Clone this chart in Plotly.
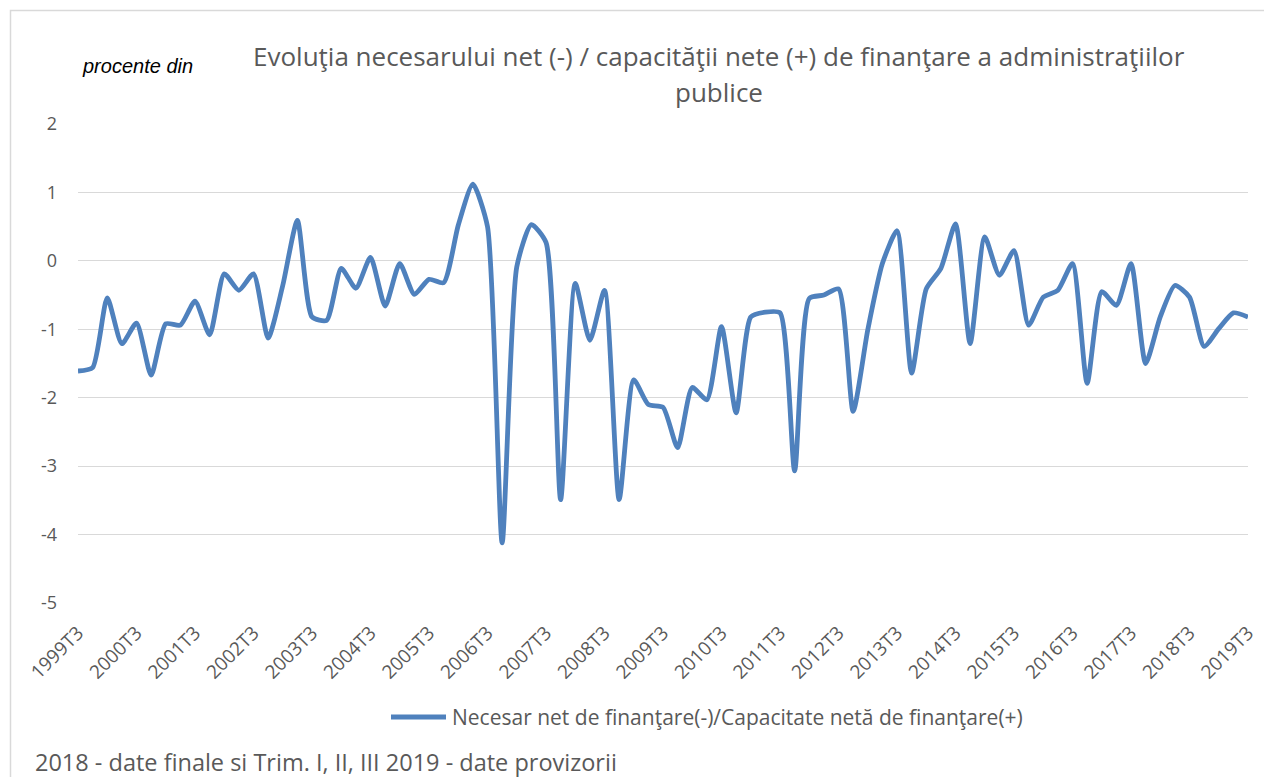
import plotly.graph_objects as go

years = list(range(1999, 2020))
quarters = []
for y in years:
    for q in (1, 2, 3, 4):
        if (y == 1999 and q < 3) or (y == 2019 and q > 3):
            continue
        quarters.append(f"{y}T{q}")

values = [
    -1.61, -1.56, -0.54, -1.21, -0.91, -1.67, -0.92, -0.94, -0.59, -1.08,
    -0.19, -0.43, -0.19, -1.13, -0.36, 0.59, -0.82, -0.87, -0.11, -0.40,
    0.05, -0.66, -0.04, -0.49, -0.27, -0.32, 0.52, 1.12, 0.50, -4.12,
    -0.09, 0.53, 0.27, -3.49, -0.33, -1.16, -0.43, -3.49, -1.74, -2.10,
    -2.14, -2.73, -1.85, -2.03, -0.96, -2.22, -0.82, -0.75, -0.76, -3.07,
    -0.55, -0.50, -0.41, -2.20, -1.01, -0.04, 0.44, -1.64, -0.41, -0.11,
    0.54, -1.21, 0.35, -0.21, 0.15, -0.94, -0.53, -0.43, -0.04, -1.79,
    -0.45, -0.65, -0.04, -1.50, -0.82, -0.36, -0.53, -1.25, -0.99, -0.76,
    -0.82,
]

tick_labels = [q for q in quarters if q.endswith("T3")]
y_tickvals = [2, 1, 0, -1, -2, -3, -4, -5]
y_ticktext = ["2", "1", "0", "-1", "-2", "-3", "-4", "-5"]

title_lines = ["Evoluţia necesarului net (-) / capacităţii nete (+) de finanţare a administraţiilor",
               "publice"]
series_name = "Necesar net de finanţare(-)/Capacitate netă de finanţare(+)"
unit_text = "procente din"
footer_text = "2018 - date finale si Trim. I, II, III 2019 - date provizorii"

OFF = 8  # page body margin
W, H = 1272, 777
L, R, T, B = 78 - OFF, 1248 - OFF, 124 - OFF, 603 - OFF

def px_x(p):
    return (p - OFF - L) / (R - L)

def px_y(p):
    return (B - (p - OFF)) / (B - T)

line_color = "#4f81bd"
grey = "#595959"
font_main = "'Open Sans', Lato, sans-serif"

fig = go.Figure()
fig.add_trace(go.Scatter(
    x=quarters, y=values, mode="lines", name=series_name, showlegend=False,
    line=dict(color=line_color, width=4.8, shape="spline", smoothing=0.6),
))

fig.update_layout(
    width=W, height=H,
    margin=dict(l=L, r=W - R, t=T, b=H - B),
    paper_bgcolor="white", plot_bgcolor="white",
    font=dict(family=font_main, color=grey),
    showlegend=False,
    xaxis=dict(type="category", range=[0, len(quarters) - 1], tickmode="array",
               tickvals=tick_labels, ticktext=tick_labels, tickangle=-45,
               tickfont=dict(size=19, color=grey), showgrid=False, zeroline=False,
               showline=False, ticks="", ticklabelstandoff=14),
    yaxis=dict(range=[-5, 2], tickmode="array", tickvals=y_tickvals, ticktext=y_ticktext,
               tickfont=dict(size=18, color=grey),
               gridcolor="#d9d9d9", gridwidth=1.3, zeroline=False, showline=False,
               ticklabelstandoff=20),
    annotations=[
        dict(text=title_lines[0], xref="paper", yref="paper", x=px_x(719), y=px_y(56),
             xanchor="center", yanchor="middle", showarrow=False,
             font=dict(size=26, color=grey, family=font_main)),
        dict(text=title_lines[1], xref="paper", yref="paper", x=px_x(719), y=px_y(92),
             xanchor="center", yanchor="middle", showarrow=False,
             font=dict(size=26, color=grey, family=font_main)),
        dict(text="<i>" + unit_text + "</i>", xref="paper", yref="paper", x=px_x(80), y=px_y(66),
             xanchor="left", yanchor="middle", showarrow=False,
             font=dict(size=20, color="black", family="'Liberation Sans', Arial, sans-serif")),
        dict(text=series_name, xref="paper", yref="paper", x=px_x(450), y=px_y(717),
             xanchor="left", yanchor="middle", showarrow=False,
             font=dict(size=21, color=grey, family=font_main)),
        dict(text=footer_text, xref="paper", yref="paper", x=px_x(33), y=px_y(762),
             xanchor="left", yanchor="middle", showarrow=False,
             font=dict(size=23.5, color=grey, family=font_main)),
    ],
    shapes=[
        dict(type="rect", xref="paper", yref="paper", x0=px_x(10.5), y0=px_y(800),
             x1=px_x(1290), y1=px_y(10.5), line=dict(color="#d9d9d9", width=1.5),
             fillcolor="rgba(0,0,0,0)", layer="below"),
        dict(type="line", xref="paper", yref="paper", x0=px_x(391), x1=px_x(446),
             y0=px_y(717), y1=px_y(717), line=dict(color=line_color, width=5)),
    ],
)

fig.write_html("out.html")
